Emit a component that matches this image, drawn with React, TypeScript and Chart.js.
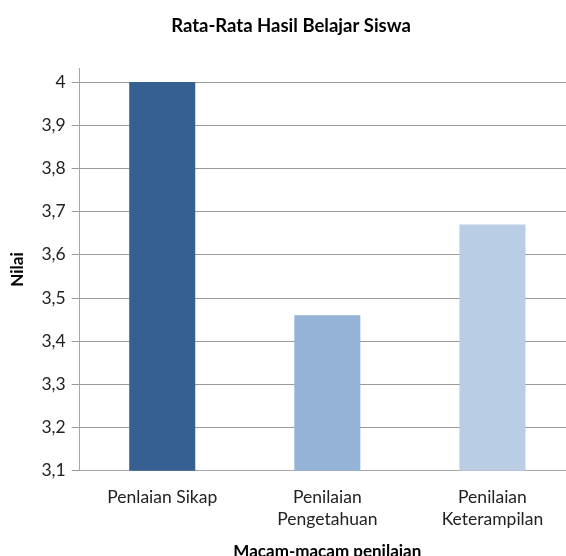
import React, { useEffect, useRef } from "react";
import { Chart, registerables } from "chart.js";

Chart.register(...registerables);

const categories: string[][] = [["Penlaian Sikap"], ["Penilaian", "Pengetahuan"], ["Penilaian", "Keterampilan"]];
const values: number[] = [4, 3.46, 3.67];
const barColors: string[] = ["#376092", "#95B3D7", "#B9CDE5"];
const tickValues: number[] = [3.1, 3.2, 3.3, 3.4, 3.5, 3.6, 3.7, 3.8, 3.9, 4.0];
const titleText = "Rata-Rata Hasil Belajar Siswa";
const yTitle = "Nilai";
const xTitle = "Macam-macam penilaian";

const FONT = "Lato, 'Open Sans', sans-serif";

export default function App() {
  const ref = useRef<HTMLCanvasElement | null>(null);
  useEffect(() => {
    if (!ref.current) return;
    const chart = new Chart(ref.current, {
      type: "bar",
      data: {
        labels: categories,
        datasets: [
          {
            data: values,
            backgroundColor: barColors,
            borderWidth: 0,
            categoryPercentage: 1,
            barPercentage: 0.4,
          },
        ],
      },
      options: {
        responsive: false,
        animation: false,
        layout: { padding: { top: 8, right: 5, left: 7, bottom: 0 } },
        plugins: {
          legend: { display: false },
          tooltip: { enabled: false },
          title: {
            display: true,
            text: titleText,
            color: "#000",
            font: { family: FONT, size: 18.5, weight: "bold" },
            padding: { top: 7, bottom: 31 },
          },
        },
        scales: {
          x: {
            grid: { display: false, drawTicks: false },
            border: { display: true, color: "#a6a6a6", width: 1 },
            ticks: {
              color: "#222",
              font: { family: FONT, size: 17.5, lineHeight: 1.25 },
              maxRotation: 0,
              autoSkip: false,
              padding: 16,
            },
            title: {
              display: true,
              text: xTitle,
              color: "#000",
              font: { family: FONT, size: 17, weight: "bold" },
              padding: { top: -5, bottom: 0 },
            },
          },
          y: {
            min: 3.1,
            max: 4.032,
            afterBuildTicks: (axis: any) => {
              axis.ticks = tickValues.map((v) => ({ value: v }));
            },
            grid: { color: "#9a9a9a", tickLength: 8, lineWidth: 1 },
            border: { display: true, color: "#a6a6a6", width: 1 },
            ticks: {
              color: "#222",
              font: { family: FONT, size: 17.5 },
              padding: 6,
              callback: (v: any) => String(Number(Number(v).toFixed(1))).replace(".", ","),
            },
            title: {
              display: true,
              text: yTitle,
              color: "#000",
              font: { family: FONT, size: 17, weight: "bold" },
              padding: { top: 0, bottom: 8 },
            },
          },
        },
      },
    });
    return () => chart.destroy();
  }, []);
  return (
    <div style={{ position: "fixed", left: 0, top: 0, width: 566, height: 556, overflow: "hidden", background: "#fff" }}>
      <canvas ref={ref} width={580} height={562} style={{ display: "block" }} />
    </div>
  );
}
